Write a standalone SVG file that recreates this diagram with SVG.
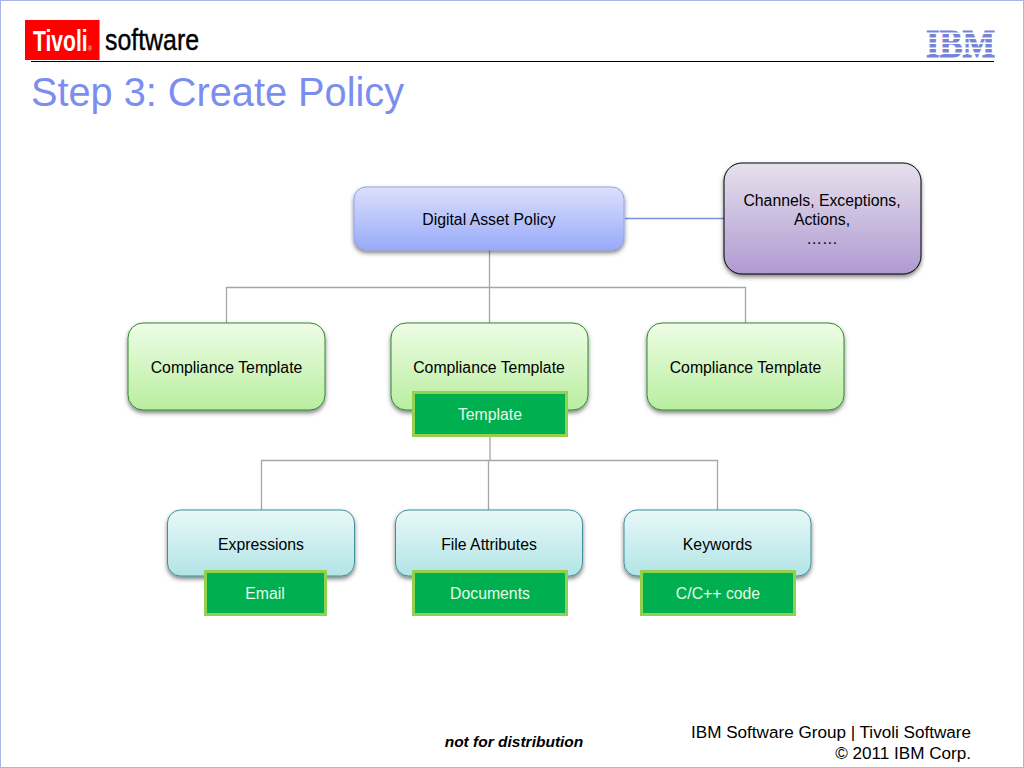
<svg xmlns="http://www.w3.org/2000/svg" width="1024" height="768" viewBox="0 0 1024 768">
<style>
text{font-family:"Liberation Sans",Arial,sans-serif;font-size:15.800px;fill:#000;text-anchor:middle}
.w{fill:#e6fae6}
.n{filter:url(#sh)}
.tag{fill:#00b050;stroke:#92d050;stroke-width:3}
.cg{fill:none;stroke:#a6a6a6;stroke-width:1.3}
</style>
<defs>
<filter id="sh" x="-10%" y="-10%" width="120%" height="125%"><feDropShadow dx="0" dy="2.500" stdDeviation="2" flood-color="#000" flood-opacity=".5"/></filter>
<linearGradient id="gb" x1="0" y1="0" x2="0" y2="1"><stop offset="0" stop-color="#dbe0fb"/><stop offset="1" stop-color="#98aafa"/></linearGradient>
<linearGradient id="gp" x1="0" y1="0" x2="0" y2="1"><stop offset="0" stop-color="#e6e0ec"/><stop offset="1" stop-color="#b09ad2"/></linearGradient>
<linearGradient id="gg" x1="0" y1="0" x2="0" y2="1"><stop offset="0" stop-color="#eefde6"/><stop offset="1" stop-color="#b9eea0"/></linearGradient>
<linearGradient id="gt" x1="0" y1="0" x2="0" y2="1"><stop offset="0" stop-color="#e8f8f8"/><stop offset="1" stop-color="#b2e4e6"/></linearGradient>
</defs>
<rect x="0.5" y="0.5" width="1023" height="767" fill="#fff" stroke="#a9b5e6"/>
<g id="header">
<rect x="25" y="20" width="74.500" height="40" fill="#f00"/>
<text transform="translate(33 51) scale(.727 1)" style="font-size:29px;font-weight:bold;fill:#fff;text-anchor:start">Tivoli<tspan style="font-size:8px;fill:#ffb0b0">®</tspan></text>
<text x="105" y="50" textLength="94" lengthAdjust="spacingAndGlyphs" style="font-size:29px;text-anchor:start;stroke:#000;stroke-width:.4">software</text>
<line x1="31" y1="61.500" x2="994" y2="61.500" stroke="#000" stroke-width="1.200"/>
<text x="31" y="106" textLength="373" lengthAdjust="spacingAndGlyphs" style="font-size:40px;fill:#7b8ef0;text-anchor:start">Step 3: Create Policy</text>
<text x="926" y="57" textLength="69" lengthAdjust="spacingAndGlyphs" style="font-family:'Liberation Serif',serif;font-size:39px;font-weight:bold;fill:#7584d6;stroke:#7584d6;stroke-width:1;text-anchor:start">IBM</text>
<g fill="#fff"><rect x="925" y="32.500" width="71" height="1.500"/><rect x="925" y="37.500" width="71" height="1.500"/><rect x="925" y="42.500" width="71" height="1.500"/><rect x="925" y="47.500" width="71" height="1.500"/><rect x="925" y="52.500" width="71" height="1.500"/></g>
</g>
<g id="connectors">
<path class="cg" d="M489.500 250V323M226.500 323V287.500H745.500V323"/>
<path class="cg" d="M490 436V460M261.500 510V460.500H717.500V510M488.500 460V510"/>
<line x1="625" y1="218.500" x2="724" y2="218.500" stroke="#7b8fe0" stroke-width="1.300"/>
</g>
<g id="policy"><rect class="n" x="354" y="187" width="270" height="63" rx="12" fill="url(#gb)" stroke="#8fa2ee"/><text x="489" y="224.500">Digital Asset Policy</text></g>
<g id="channels"><rect class="n" x="724" y="163" width="197" height="111" rx="18" fill="url(#gp)" stroke="#000"/><text x="822" y="205.500">Channels, Exceptions,</text><text x="822" y="224.500">Actions,</text><text x="822" y="244">……</text></g>
<g id="ct1"><rect class="n" x="128" y="323" width="197" height="87" rx="15" fill="url(#gg)" stroke="#2f8a2f"/><text x="226.500" y="372.500">Compliance Template</text></g>
<g id="ct2"><rect class="n" x="391" y="323" width="197" height="87" rx="15" fill="url(#gg)" stroke="#2f8a2f"/><text x="489" y="372.500">Compliance Template</text></g>
<g id="ct3"><rect class="n" x="647" y="323" width="197" height="87" rx="15" fill="url(#gg)" stroke="#2f8a2f"/><text x="745.500" y="372.500">Compliance Template</text></g>
<g id="template"><rect class="tag" x="413.500" y="392.500" width="153" height="43"/><text class="w" x="490" y="419.500">Template</text></g>
<g id="expressions"><rect class="n" x="167.500" y="510" width="187" height="66" rx="13" fill="url(#gt)" stroke="#3f8f9a"/><text x="261" y="549.500">Expressions</text></g>
<g id="fileattrs"><rect class="n" x="395.500" y="510" width="187" height="66" rx="13" fill="url(#gt)" stroke="#3f8f9a"/><text x="489" y="549.500">File Attributes</text></g>
<g id="keywords"><rect class="n" x="624" y="510" width="187" height="66" rx="13" fill="url(#gt)" stroke="#3f8f9a"/><text x="717.500" y="549.500">Keywords</text></g>
<g id="email"><rect class="tag" x="205.500" y="571.500" width="120" height="43"/><text class="w" x="265" y="598.500">Email</text></g>
<g id="documents"><rect class="tag" x="413.500" y="571.500" width="153" height="43"/><text class="w" x="490" y="598.500">Documents</text></g>
<g id="code"><rect class="tag" x="641.500" y="571.500" width="153" height="43"/><text class="w" x="718" y="598.500">C/C++ code</text></g>
<g id="footer">
<text x="514" y="747" style="font-size:15.500px;font-weight:bold;font-style:italic">not for distribution</text>
<text x="971" y="738" style="font-size:17.100px;text-anchor:end">IBM Software Group | Tivoli Software</text>
<text x="971" y="759" style="font-size:17.100px;text-anchor:end">© 2011 IBM Corp.</text>
</g>
</svg>
